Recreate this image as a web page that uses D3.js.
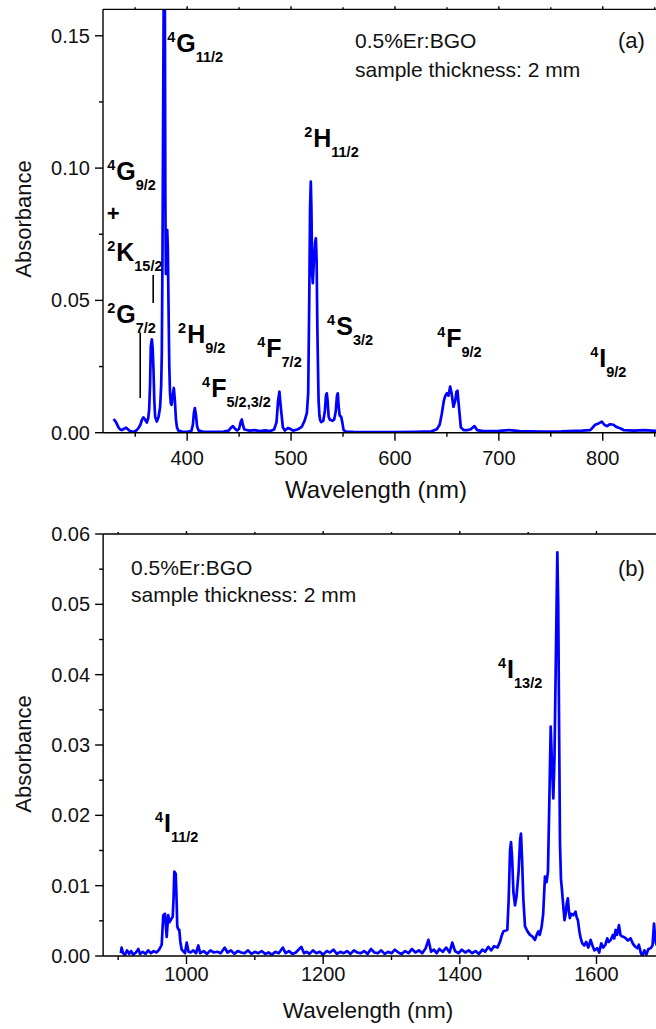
<!DOCTYPE html>
<html>
<head>
<meta charset="utf-8">
<script src="https://cdn.jsdelivr.net/npm/d3@7"></script>
<style>
  html, body { margin: 0; padding: 0; background: #fff; }
  svg { display: block; font-family: "Liberation Sans", Arial, sans-serif; }
</style>
</head>
<body>
<svg id="chart" width="656" height="1029"></svg>
<script>
// ---------------- Panel (a) data ----------------
const wavelengthA = [
  329.2,331.5,333.9,335.5,337.1,339.2,341.3,343.2,345.1,348.3,351.0,353.1,355.0,356.4,357.9,359.5,361.2,362.5,363.4,364.3,
  365.0,366.0,366.8,367.6,368.4,369.2,370.8,372.5,374.0,375.0,375.6,376.3,377.0,377.6,378.0,378.5,379.0,379.5,380.2,380.8,
  381.4,382.0,382.8,383.5,384.3,385.0,386.0,387.2,388.2,389.2,390.2,391.5,395,400,404,405.5,406.5,407.4,408.4,409.5,
  411,415,425,435,440,442,444,446,448,450,451.5,452.6,453.6,455,460,465,470,475,480,483.7,
  486,487.5,488.8,489.8,490.8,492.1,494,497,499,502,506,508,510.4,513,515.2,516.5,517.5,518.3,519.0,519.6,
  520.3,520.9,522.0,523.2,523.9,524.6,525.3,525.8,526.5,527.3,528.0,529,531,532.5,533.6,534.4,535.2,536.2,537.5,538.6,
  540,541.5,543,544.2,545.0,545.8,546.8,548.2,549.3,550.5,553,560,580,600,620,635,640.3,643,645,647,
  648.5,650.0,651.5,653.1,654.5,656.3,658,659.2,660.2,661.5,663.4,666,670,673,676.5,679,685,700,710,720,
  740,760,780,788,792.7,796,799.1,801.5,804,807,810.3,813,816.7,820,830,840,851,855
];
const absorbanceA = [
  0.0052,0.0040,0.0020,0.0012,0.0010,0.0015,0.0019,0.0012,0.0006,0.0003,0.0008,0.0017,0.0030,0.0048,0.0058,0.0050,0.0038,0.0055,0.0086,0.0180,
  0.0325,0.0353,0.0320,0.0237,0.0120,0.0060,0.0042,0.0060,0.0098,0.0180,0.0300,0.0700,0.1300,0.1800,0.2000,0.1700,0.0900,0.0600,0.0720,0.0766,
  0.0700,0.0500,0.0250,0.0150,0.0110,0.0105,0.0140,0.0169,0.0120,0.0050,0.0020,0.0008,0.0004,0.0003,0.0006,0.0030,0.0075,0.0093,0.0070,0.0025,
  0.0008,0.0004,0.0003,0.0004,0.0008,0.0018,0.0025,0.0015,0.0008,0.0015,0.0040,0.0050,0.0030,0.0012,0.0008,0.0010,0.0006,0.0009,0.0006,0.0012,
  0.0040,0.0120,0.0155,0.0110,0.0070,0.0020,0.0008,0.0018,0.0015,0.0008,0.0012,0.0016,0.0023,0.0045,0.0074,0.0150,0.0500,0.0850,0.0949,0.0850,
  0.0600,0.0565,0.0650,0.0720,0.0735,0.0650,0.0400,0.0275,0.0120,0.0065,0.0048,0.0040,0.0045,0.0080,0.0140,0.0149,0.0120,0.0060,0.0048,0.0048,
  0.0045,0.0050,0.0080,0.0140,0.0149,0.0100,0.0065,0.0060,0.0040,0.0010,0.0004,0.0003,0.0002,0.0002,0.0003,0.0005,0.0013,0.0030,0.0070,0.0120,
  0.0140,0.0149,0.0140,0.0174,0.0150,0.0098,0.0120,0.0155,0.0159,0.0100,0.0020,0.0010,0.0010,0.0013,0.0025,0.0010,0.0006,0.0007,0.0010,0.0006,
  0.0004,0.0005,0.0008,0.0010,0.0030,0.0035,0.0042,0.0030,0.0025,0.0032,0.0030,0.0022,0.0017,0.0010,0.0008,0.0010,0.0007,0.0009
];

// ---------------- Panel (b) data ----------------
const wavelengthB = [
  903.9,905,907,910,913,916,919,922,926,929.5,932,936,940,944,948,952,956,960,963.7,966.0,
  968.5,971.0,973.2,975,976.9,979.8,981,982.2,984.2,985.5,986.5,988,989.5,991,993,997.8,1000.3,1003,1006,1010,
  1014,1017.3,1020,1025,1030,1035,1040,1045,1050,1056,1060,1065,1070,1075,1080,1085,1090,1095,1100,1105,
  1110,1115,1120,1125,1130,1135,1141,1145,1150,1155,1160,1168,1172,1176,1180,1185,1190,1195,1200,1205,
  1210,1215,1220,1225,1230,1235,1240,1245,1250,1255,1260,1265,1270,1275,1280,1285,1290,1295,1300,1305,
  1310,1315,1320,1325,1330,1335,1340,1345,1350,1354,1358,1362,1366,1370,1375,1380,1385,1389,1393,1398,
  1403,1408,1413,1418,1423,1428,1433,1437,1441.7,1446,1450,1455,1458.8,1461,1463.7,1466,1469.5,1471.5,1473.5,1474.9,
  1476.5,1478.5,1480.8,1483,1486,1488.2,1489.5,1491,1493,1495.4,1499,1502.7,1506,1510,1512.5,1514.9,1517,1519.8,1522,1524.6,
  1527,1529,1531,1533,1535,1536.8,1538.5,1540.5,1542.7,1544,1545.5,1546.6,1548,1549.9,1551.5,1553.2,1555,1556.5,1558.1,1559.5,
  1561,1563,1566,1569.4,1571,1572.8,1575,1577,1579.2,1582,1585,1588,1591.4,1594,1597,1601.2,1604,1607,1610,1613,
  1615.8,1618,1621,1624,1626,1628,1630,1632.9,1635,1637,1640.2,1643,1646,1650,1653,1656,1659.8,1662,1665,1667.1,
  1670,1673,1676,1679.3,1682,1684.2,1685.5,1686.7,1690
];
const absorbanceB = [
  0.0004,0.0012,0.0004,0.0002,0.0008,0.0003,0.0007,0.0002,0.0005,0.0010,0.0003,0.0006,0.0003,0.0008,0.0004,0.0007,0.0005,0.0009,0.0016,0.0058,
  0.0060,0.0027,0.0058,0.0048,0.0051,0.0056,0.0080,0.0120,0.0117,0.0080,0.0042,0.0038,0.0037,0.0020,0.0009,0.0004,0.0019,0.0006,0.0005,0.0008,
  0.0004,0.0015,0.0004,0.0007,0.0003,0.0008,0.0005,0.0006,0.0004,0.0012,0.0005,0.0008,0.0003,0.0007,0.0005,0.0004,0.0008,0.0003,0.0006,0.0004,
  0.0007,0.0003,0.0005,0.0002,0.0006,0.0004,0.0012,0.0004,0.0007,0.0003,0.0005,0.0013,0.0004,0.0006,0.0003,0.0008,0.0004,0.0006,0.0002,0.0007,
  0.0005,0.0009,0.0003,0.0006,0.0004,0.0007,0.0003,0.0008,0.0005,0.0004,0.0007,0.0003,0.0010,0.0005,0.0004,0.0008,0.0003,0.0006,0.0004,0.0009,
  0.0005,0.0003,0.0007,0.0004,0.0010,0.0005,0.0008,0.0004,0.0011,0.0023,0.0006,0.0009,0.0004,0.0010,0.0006,0.0012,0.0005,0.0019,0.0007,0.0004,
  0.0009,0.0005,0.0008,0.0004,0.0007,0.0003,0.0009,0.0006,0.0013,0.0008,0.0014,0.0012,0.0020,0.0028,0.0035,0.0036,0.0037,0.0080,0.0150,0.0162,
  0.0140,0.0090,0.0072,0.0085,0.0120,0.0165,0.0174,0.0140,0.0080,0.0042,0.0035,0.0030,0.0028,0.0023,0.0030,0.0035,0.0030,0.0042,0.0060,0.0113,
  0.0105,0.0120,0.0220,0.0326,0.0270,0.0224,0.0280,0.0420,0.0574,0.0500,0.0300,0.0160,0.0110,0.0089,0.0070,0.0051,0.0060,0.0075,0.0082,0.0065,
  0.0054,0.0060,0.0058,0.0063,0.0055,0.0051,0.0035,0.0025,0.0018,0.0015,0.0020,0.0012,0.0023,0.0015,0.0008,0.0011,0.0005,0.0018,0.0012,0.0016,
  0.0025,0.0020,0.0023,0.0030,0.0025,0.0037,0.0030,0.0044,0.0030,0.0028,0.0027,0.0025,0.0022,0.0025,0.0018,0.0014,0.0011,0.0016,0.0004,0.0000,
  0.0008,0.0002,0.0010,0.0011,0.0015,0.0046,0.0030,0.0019,0.0012
];

// ---------------- Ticks ----------------
const xMajorA = [400, 500, 600, 700, 800];
const xMinorA = [350, 450, 550, 650, 750, 850];
const yMajorA = [0, 0.05, 0.10, 0.15];
const yMinorA = [0.025, 0.075, 0.125];
const xMajorB = [1000, 1200, 1400, 1600];
const xMinorB = [900, 1100, 1300, 1500, 1700];
const yMajorB = [0, 0.01, 0.02, 0.03, 0.04, 0.05, 0.06];
const yMinorB = [0.005, 0.015, 0.025, 0.035, 0.045, 0.055];

// ---------------- Labels (wavelength, absorbance anchor) ----------------
const levelLabelsA = [
  { sup: "4", main: "G", sub: "11/2", wl: 380.8, ab: 0.1439 },
  { sup: "4", main: "G", sub: "9/2",  wl: 323.0, ab: 0.0955 },
  { sup: "2", main: "K", sub: "15/2", wl: 323.0, ab: 0.0649 },
  { sup: "2", main: "G", sub: "7/2",  wl: 323.0, ab: 0.0415 },
  { sup: "2", main: "H", sub: "9/2",  wl: 391.3, ab: 0.0339 },
  { sup: "4", main: "F", sub: "5/2,3/2", wl: 414.4, ab: 0.0135 },
  { sup: "4", main: "F", sub: "7/2",  wl: 467.4, ab: 0.0286 },
  { sup: "2", main: "H", sub: "11/2", wl: 512.6, ab: 0.1080 },
  { sup: "4", main: "S", sub: "3/2",  wl: 534.7, ab: 0.0369 },
  { sup: "4", main: "F", sub: "9/2",  wl: 640.6, ab: 0.0324 },
  { sup: "4", main: "I", sub: "9/2",  wl: 787.9, ab: 0.0248 }
];
const plusLabelA = { text: "+", wl: 322.5, ab: 0.0800 };
const markerLinesA = [
  { wl: 367.3, ab0: 0.0490, ab1: 0.0596 },
  { wl: 354.8, ab0: 0.0131, ab1: 0.0378 }
];
const levelLabelsB = [
  { sup: "4", main: "I", sub: "11/2", wl: 953.9, ab: 0.0176 },
  { sup: "4", main: "I", sub: "13/2", wl: 1455.9, ab: 0.0395 }
];
const sampleText = ["0.5%Er:BGO", "sample thickness: 2 mm"];
const xTitle = "Wavelength (nm)";
const yTitle = "Absorbance";

// ---------------- Drawing ----------------
const svg = d3.select("#chart");
const W = 656;

function drawPanel(cfg) {
  const { x, y, wl, ab, xMajor, xMinor, yMajor, yMinor, yFmt, labels, id, tickLabelOffset } = cfg;
  const g = svg.append("g");
  const left = x.range()[0], right = W + 10;
  const top = y.range()[1], bottom = y.range()[0];

  g.append("clipPath").attr("id", id).append("rect")
    .attr("x", left).attr("y", top).attr("width", right - left).attr("height", bottom - top);

  // spectrum
  const data = wl.map((d, i) => [d, ab[i]]);
  g.append("path")
    .attr("clip-path", `url(#${id})`)
    .attr("d", d3.line().x(d => x(d[0])).y(d => y(d[1]))(data))
    .attr("fill", "none").attr("stroke", "#0000ff").attr("stroke-width", 2.7)
    .attr("stroke-linejoin", "round");

  // axes
  const axG = g.append("g").attr("stroke", "#000").attr("stroke-width", 1.4);
  axG.append("line").attr("x1", left).attr("x2", right).attr("y1", bottom).attr("y2", bottom);
  axG.append("line").attr("x1", left).attr("x2", right).attr("y1", top).attr("y2", top);
  axG.append("line").attr("x1", left).attr("x2", left).attr("y1", top).attr("y2", bottom);

  xMajor.forEach(v => {
    axG.append("line").attr("x1", x(v)).attr("x2", x(v)).attr("y1", bottom).attr("y2", bottom + 8);
    axG.append("line").attr("x1", x(v)).attr("x2", x(v)).attr("y1", top).attr("y2", top - 3);
  });
  xMinor.forEach(v => {
    axG.append("line").attr("x1", x(v)).attr("x2", x(v)).attr("y1", bottom).attr("y2", bottom + 4);
    axG.append("line").attr("x1", x(v)).attr("x2", x(v)).attr("y1", top).attr("y2", top - 2);
  });
  yMajor.forEach(v => {
    axG.append("line").attr("x1", left - 8).attr("x2", left).attr("y1", y(v)).attr("y2", y(v));
  });
  yMinor.forEach(v => {
    axG.append("line").attr("x1", left - 4).attr("x2", left).attr("y1", y(v)).attr("y2", y(v));
  });

  g.selectAll(".xl").data(xMajor).enter().append("text")
    .attr("x", d => x(d)).attr("y", bottom + tickLabelOffset)
    .attr("text-anchor", "middle").attr("font-size", 20).attr("fill", "#111")
    .text(d => d);
  g.selectAll(".yl").data(yMajor).enter().append("text")
    .attr("x", left - 13).attr("y", d => y(d) + 7)
    .attr("text-anchor", "end").attr("font-size", 20).attr("fill", "#111")
    .text(d => yFmt(d));

  // level labels
  labels.forEach(L => {
    const t = g.append("text").attr("x", x(L.wl)).attr("y", y(L.ab))
      .attr("font-weight", "bold").attr("fill", "#000");
    t.append("tspan").attr("font-size", 14.5).attr("dy", -10).text(L.sup);
    t.append("tspan").attr("font-size", 25).attr("dy", 10).attr("dx", 1).text(L.main);
    t.append("tspan").attr("font-size", 14.5).attr("dy", 10).text(L.sub);
  });
  return g;
}

// Panel (a)
const xA = d3.scaleLinear().domain([319, 855]).range([103, 103 + 536 * 1.039]);
const yA = d3.scaleLinear().domain([0, 0.16]).range([432.7, 432.7 - 0.16 * 2646]);
const gA = drawPanel({ x: xA, y: yA, wl: wavelengthA, ab: absorbanceA, xMajor: xMajorA, xMinor: xMinorA,
  yMajor: yMajorA, yMinor: yMinorA, yFmt: d3.format(".2f"), labels: levelLabelsA, id: "clipA", tickLabelOffset: 32 });

gA.append("text").attr("x", xA(plusLabelA.wl)).attr("y", yA(plusLabelA.ab))
  .attr("font-weight", "bold").attr("font-size", 22).text(plusLabelA.text);
markerLinesA.forEach(m => {
  gA.append("line").attr("x1", xA(m.wl)).attr("x2", xA(m.wl))
    .attr("y1", yA(m.ab0)).attr("y2", yA(m.ab1)).attr("stroke", "#000").attr("stroke-width", 1.6);
});
gA.append("text").attr("x", 355).attr("y", 48).attr("font-size", 21).attr("fill", "#111").text(sampleText[0]);
gA.append("text").attr("x", 355).attr("y", 77).attr("font-size", 21).attr("fill", "#111").text(sampleText[1]);
gA.append("text").attr("x", 618).attr("y", 48).attr("font-size", 22).attr("fill", "#111").text("(a)");
gA.append("text").attr("x", 376).attr("y", 498).attr("text-anchor", "middle").attr("font-size", 24).attr("fill", "#111").text(xTitle);
gA.append("text").attr("transform", "translate(31,219) rotate(-90)").attr("text-anchor", "middle")
  .attr("font-size", 22).attr("fill", "#111").text(yTitle);

// Panel (b)
const xB = d3.scaleLinear().domain([878, 1700]).range([186.5 - 122 * 0.6833, 186.5 + 700 * 0.6833]);
const yB = d3.scaleLinear().domain([0, 0.06]).range([956, 534]);
const gB = drawPanel({ x: xB, y: yB, wl: wavelengthB, ab: absorbanceB, xMajor: xMajorB, xMinor: xMinorB,
  yMajor: yMajorB, yMinor: yMinorB, yFmt: d3.format(".2f"), labels: levelLabelsB, id: "clipB", tickLabelOffset: 25 });
gB.append("text").attr("x", 131).attr("y", 575).attr("font-size", 21).attr("fill", "#111").text(sampleText[0]);
gB.append("text").attr("x", 131).attr("y", 602).attr("font-size", 21).attr("fill", "#111").text(sampleText[1]);
gB.append("text").attr("x", 618).attr("y", 576).attr("font-size", 22).attr("fill", "#111").text("(b)");
gB.append("text").attr("x", 368).attr("y", 1018).attr("text-anchor", "middle").attr("font-size", 22.5).attr("fill", "#111").text(xTitle);
gB.append("text").attr("transform", "translate(31,754) rotate(-90)").attr("text-anchor", "middle")
  .attr("font-size", 22).attr("fill", "#111").text(yTitle);
</script>
</body>
</html>
